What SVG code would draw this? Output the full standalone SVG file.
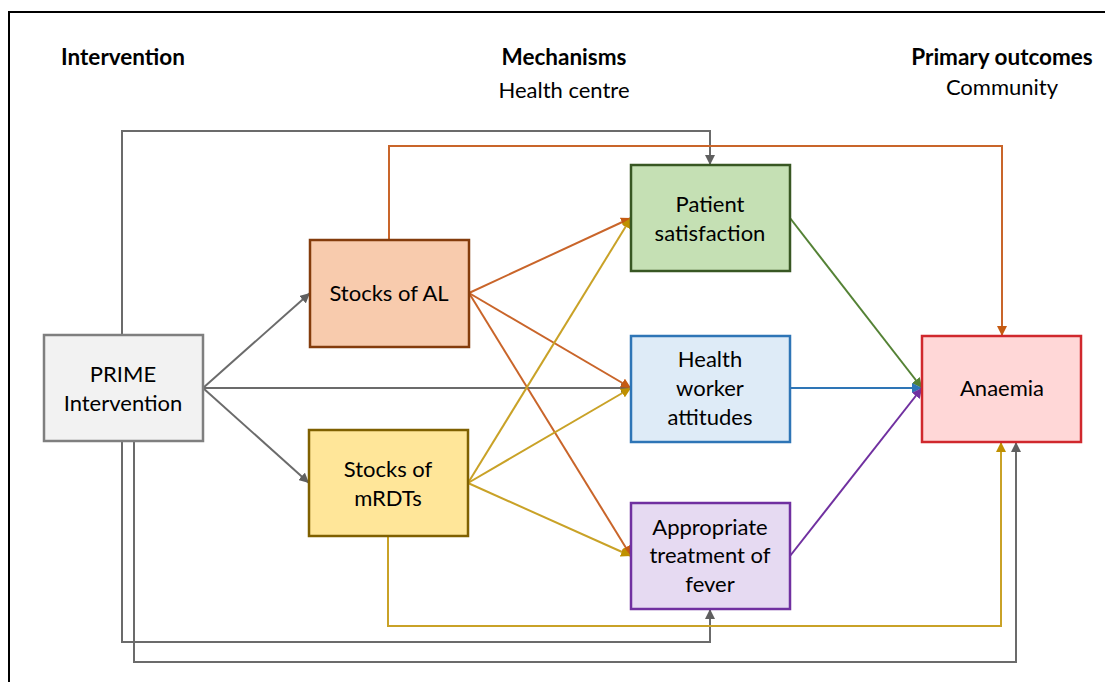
<svg xmlns="http://www.w3.org/2000/svg" width="1105" height="682" viewBox="0 0 1105 682">
<style>
text{font-family:Lato,"Open Sans","Liberation Sans",sans-serif;font-size:22px;fill:#000;text-anchor:middle}
.h{font-weight:bold;font-size:22.5px}
.node rect{stroke-width:2.5}
.c{fill:none;stroke-width:2}
.g{stroke:#6b6b6b}
.o{stroke:#c9652a}
.y{stroke:#c9a227}
</style>
<defs>
<marker id="ag" markerWidth="10" markerHeight="10" refX="10" refY="5" orient="auto" markerUnits="userSpaceOnUse"><path d="M0,0L10,5L0,10z" fill="#5f5f5f"/></marker>
<marker id="ao" markerWidth="10" markerHeight="10" refX="10" refY="5" orient="auto" markerUnits="userSpaceOnUse"><path d="M0,0L10,5L0,10z" fill="#c55a11"/></marker>
<marker id="ay" markerWidth="10" markerHeight="10" refX="10" refY="5" orient="auto" markerUnits="userSpaceOnUse"><path d="M0,0L10,5L0,10z" fill="#bf9000"/></marker>
<marker id="agr" markerWidth="10" markerHeight="10" refX="10" refY="5" orient="auto" markerUnits="userSpaceOnUse"><path d="M0,0L10,5L0,10z" fill="#548235"/></marker>
<marker id="ab" markerWidth="10" markerHeight="10" refX="10" refY="5" orient="auto" markerUnits="userSpaceOnUse"><path d="M0,0L10,5L0,10z" fill="#2e75b6"/></marker>
<marker id="ap" markerWidth="10" markerHeight="10" refX="10" refY="5" orient="auto" markerUnits="userSpaceOnUse"><path d="M0,0L10,5L0,10z" fill="#7030a0"/></marker>
</defs>
<rect width="1105" height="682" fill="#fff"/>
<path d="M9,682V12H1105" fill="none" stroke="#000" stroke-width="2"/>
<g id="headings">
<text class="h" x="123" y="65">Intervention</text>
<text class="h" x="564" y="65">Mechanisms</text>
<text x="564" y="98">Health centre</text>
<text class="h" x="1002" y="65">Primary outcomes</text>
<text x="1002" y="95">Community</text>
</g>
<g id="connectors">
<path class="c g" d="M122,335V131H710V165" marker-end="url(#ag)"/>
<path class="c g" d="M122,441V642H710V609" marker-end="url(#ag)"/>
<path class="c g" d="M134,441V662H1016V442" marker-end="url(#ag)"/>
<path class="c g" d="M203,388L310,293" marker-end="url(#ag)"/>
<path class="c g" d="M203,388L309,483" marker-end="url(#ag)"/>
<path class="c g" d="M203,388H631" marker-end="url(#ag)"/>
<path class="c o" d="M389,240V146H1002V336" marker-end="url(#ao)"/>
<path class="c o" d="M469,293L631,218" marker-end="url(#ao)"/>
<path class="c o" d="M469,293L631,388" marker-end="url(#ao)"/>
<path class="c o" d="M469,293L631,556" marker-end="url(#ao)"/>
<path class="c y" d="M468,483L631,218" marker-end="url(#ay)"/>
<path class="c y" d="M468,483L631,388" marker-end="url(#ay)"/>
<path class="c y" d="M468,483L631,556" marker-end="url(#ay)"/>
<path class="c y" d="M388,536V626H1001V442" marker-end="url(#ay)"/>
<path class="c" stroke="#548235" d="M790,218L922,388" marker-end="url(#agr)"/>
<path class="c" stroke="#2e75b6" d="M790,388H922" marker-end="url(#ab)"/>
<path class="c" stroke="#7030a0" d="M790,556L922,388" marker-end="url(#ap)"/>
</g>
<g id="prime" class="node">
<rect x="44" y="335" width="159" height="106" fill="#f2f2f2" stroke="#7f7f7f"/>
<text x="123" y="382">PRIME</text>
<text x="123" y="411">Intervention</text>
</g>
<g id="stocks-al" class="node">
<rect x="310" y="240" width="159" height="107" fill="#f8cbad" stroke="#843c0c"/>
<text x="389" y="301">Stocks of AL</text>
</g>
<g id="stocks-mrdts" class="node">
<rect x="309" y="430" width="159" height="106" fill="#ffe699" stroke="#7f6000"/>
<text x="388" y="477">Stocks of</text>
<text x="388" y="506">mRDTs</text>
</g>
<g id="patient-satisfaction" class="node">
<rect x="631" y="165" width="159" height="106" fill="#c5e0b4" stroke="#385723"/>
<text x="710" y="212">Patient</text>
<text x="710" y="241">satisfaction</text>
</g>
<g id="health-worker" class="node">
<rect x="631" y="336" width="159" height="106" fill="#deebf7" stroke="#2e75b6"/>
<text x="710" y="367">Health</text>
<text x="710" y="396">worker</text>
<text x="710" y="425">attitudes</text>
</g>
<g id="treatment" class="node">
<rect x="631" y="503" width="159" height="106" fill="#e6daf2" stroke="#7030a0"/>
<text x="710" y="535">Appropriate</text>
<text x="710" y="563">treatment of</text>
<text x="710" y="592">fever</text>
</g>
<g id="anaemia" class="node">
<rect x="922" y="336" width="159" height="106" fill="#ffd7d7" stroke="#d0282d"/>
<text x="1002" y="396">Anaemia</text>
</g>
</svg>
